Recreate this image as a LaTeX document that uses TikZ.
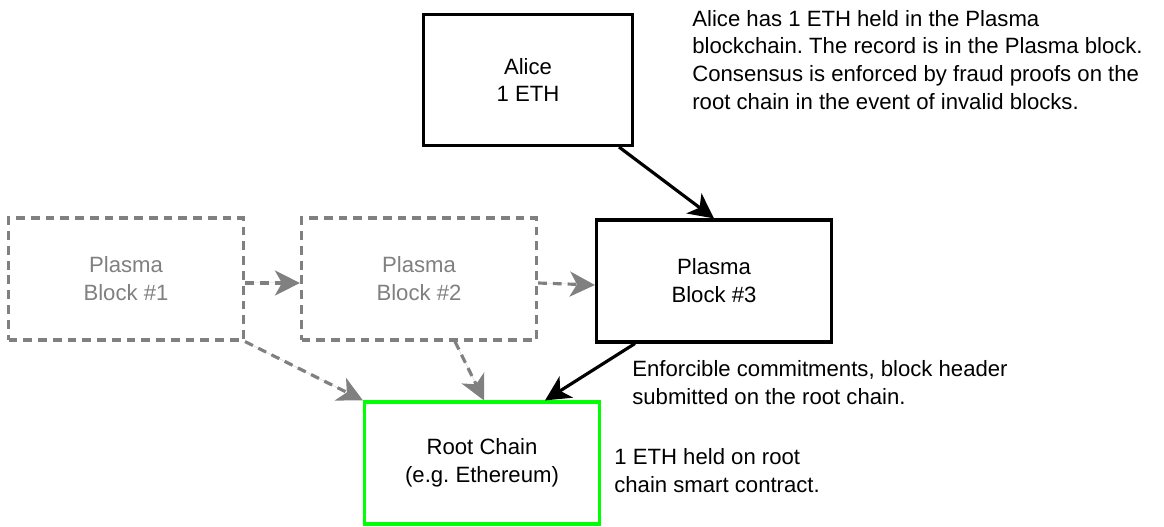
\documentclass[tikz,border=0pt]{standalone}
\usepackage{fontspec}
\setmainfont{Liberation Sans}
\usepackage{tikz}
\usetikzlibrary{arrows.meta}
\definecolor{ghostgray}{HTML}{808080}
\definecolor{rootgreen}{HTML}{00FF00}
\frenchspacing
\tikzset{every node/.style={font=\fontsize{12.6}{15.9}\selectfont},
	block/.style={draw, line width=1.8pt, align=center, minimum width=4.7cm, minimum height=2.44cm},
	ghost/.style={block, draw=ghostgray, text=ghostgray, dash pattern=on 5pt off 3.4pt},
	note/.style={align=left, anchor=west, inner sep=0pt},
	tip/.style={-{Stealth[length=0.5cm, width=0.5cm, inset=0.14cm]}, line width=1.8pt},
	ghosttip/.style={tip, draw=ghostgray, fill=ghostgray, dash pattern=on 5pt off 3.4pt}}

\begin{document}
\begin{tikzpicture}[x=0.02cm, y=-0.02cm]
		\useasboundingbox (0,0) rectangle (1164,527);
		%		blocks
		\node[block, minimum width=4.18cm, minimum height=2.62cm] (alice) at (528,80){Alice\\1 ETH};
		\node[ghost] (b1) at (126,279){Plasma\\Block \#1};
		\node[ghost] (b2) at (419,279){Plasma\\Block \#2};
		\node[block] (b3) at (714,281){Plasma\\Block \#3};
		\node[block, draw=rootgreen] (root) at (482,463){Root Chain\\(e.g. Ethereum)};
		\node[note] (n1) at (692,60){Alice has 1 ETH held in the Plasma\\blockchain. The record is in the Plasma block.\\Consensus is enforced by fraud proofs on the\\root chain in the event of invalid blocks.};
		\node[note] (n2) at (632,383){Enforcible commitments, block header\\submitted on the root chain.};
		\node[note] (n3) at (614,471){1 ETH held on root\\chain smart contract.};
		\draw[tip] ([xshift=-0.3cm]alice.south east) -- (b3.north);
		\draw[ghosttip] ([yshift=-0.08cm]b1.east) -- ([yshift=-0.08cm]b2.west);
		\draw[ghosttip] ([yshift=-0.08cm]b2.east) -- ([yshift=-0.08cm]b3.west);
		\draw[ghosttip] (b1.south east) -- (root.north west);
		\draw[ghosttip] ([xshift=0.72cm]b2.south) -- ([xshift=0.04cm]root.north);
		\draw[tip] ([xshift=0.8cm]b3.south west) -- ([xshift=1.26cm]root.north);
\end{tikzpicture}
\end{document}
